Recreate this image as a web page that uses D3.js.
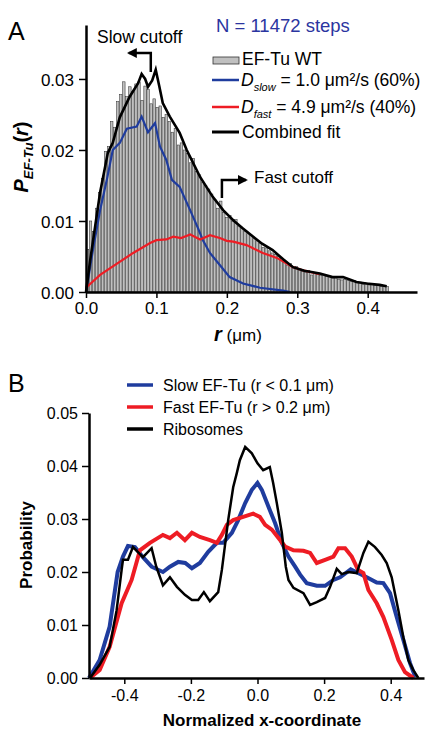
<!DOCTYPE html>
<html>
<head>
<meta charset="utf-8">
<script src="https://cdn.jsdelivr.net/npm/d3@7"></script>
<style>
  body { margin: 0; background: #fff; }
  svg text { font-family: "Liberation Sans", Arial, sans-serif; }
</style>
</head>
<body>
<svg id="chart" width="425" height="730"></svg>
<script>
// ---- panel A data ----
// histogram of step sizes, bins of 0.0043 um starting at r = 0
var histBinWidth = 0.0043;
var histValues = [
  0.0060, 0.0100, 0.0085, 0.0118, 0.0140, 0.0160, 0.0198, 0.0205, 0.0240, 0.0232,
  0.0268, 0.0278, 0.0296, 0.0275, 0.0289, 0.0282, 0.0293, 0.0296, 0.0270, 0.0290,
  0.0285, 0.0265, 0.0272, 0.0260, 0.0262, 0.0246, 0.0250, 0.0240, 0.0225, 0.0230,
  0.0207, 0.0210, 0.0200, 0.0195, 0.0182, 0.0188, 0.0170, 0.0165, 0.0155, 0.0150,
  0.0145, 0.0138, 0.0130, 0.0118, 0.0128, 0.0112, 0.0105, 0.0108, 0.0100, 0.0102,
  0.0093, 0.0090, 0.0085, 0.0082, 0.0080, 0.0075, 0.0072, 0.0068, 0.0063, 0.0062,
  0.0058, 0.0055, 0.0053, 0.0050, 0.0047, 0.0042, 0.0038, 0.0040, 0.0034, 0.0036,
  0.0031, 0.0029, 0.0028, 0.0030, 0.0024, 0.0026, 0.0025, 0.0023, 0.0025, 0.0022,
  0.0022, 0.0020, 0.0021, 0.0018, 0.0017, 0.0018, 0.0016, 0.0015, 0.0016, 0.0013,
  0.0014, 0.0011, 0.0013, 0.0010, 0.0011, 0.0009, 0.0010, 0.0008, 0.0009, 0.0008
];
// fitted curves: [r, P]
var slowFit = [
  [0, 0], [0.01, 0.006], [0.02, 0.0115], [0.03, 0.016], [0.038, 0.020], [0.048, 0.021],
  [0.058, 0.023], [0.072, 0.0233], [0.079, 0.0247], [0.088, 0.0225], [0.098, 0.0238],
  [0.105, 0.0205], [0.114, 0.0186], [0.122, 0.0158], [0.133, 0.0148], [0.148, 0.0115],
  [0.159, 0.009], [0.166, 0.0073], [0.176, 0.0055], [0.19, 0.0038], [0.204, 0.0021],
  [0.223, 0.0012], [0.247, 0.0006], [0.28, 0.0002], [0.29, 0]
];
var fastFit = [
  [0, 0.0006], [0.02, 0.0024], [0.044, 0.004], [0.067, 0.0055], [0.091, 0.0069],
  [0.1, 0.0073], [0.114, 0.0074], [0.124, 0.0078], [0.135, 0.0076], [0.148, 0.0081],
  [0.162, 0.0074], [0.176, 0.008], [0.19, 0.0076], [0.2, 0.0072], [0.209, 0.0071],
  [0.228, 0.0066], [0.251, 0.0055], [0.271, 0.0048], [0.285, 0.0040], [0.294, 0.0035],
  [0.31, 0.0030], [0.332, 0.0025]
];
var combinedFit = [
  [0, 0], [0.006, 0.0045], [0.02, 0.014], [0.031, 0.0196], [0.038, 0.021],
  [0.048, 0.0246], [0.062, 0.0275], [0.074, 0.0294], [0.079, 0.0307], [0.084, 0.0300],
  [0.088, 0.0289], [0.094, 0.0298], [0.099, 0.0313], [0.104, 0.029], [0.109, 0.0266],
  [0.119, 0.0247], [0.133, 0.0224], [0.143, 0.020], [0.148, 0.019], [0.162, 0.0162],
  [0.18, 0.0134], [0.195, 0.0115], [0.209, 0.0101], [0.222, 0.0090], [0.237, 0.0078],
  [0.25, 0.0068], [0.265, 0.0059], [0.28, 0.0046], [0.294, 0.0035], [0.31, 0.0030],
  [0.332, 0.0026], [0.35, 0.0021], [0.365, 0.0021], [0.384, 0.0014], [0.398, 0.0012],
  [0.417, 0.0010], [0.427, 0.0008]
];
var xTicksA = [0, 0.1, 0.2, 0.3, 0.4];
var yTicksA = [0, 0.01, 0.02, 0.03];

// ---- panel B data: [normalized x, probability] ----
var slowProfile = [
  [-0.506, 0], [-0.474, 0.0034], [-0.444, 0.0097], [-0.42, 0.0200], [-0.404, 0.0229],
  [-0.389, 0.0249], [-0.368, 0.0247], [-0.344, 0.0228], [-0.318, 0.021], [-0.284, 0.020],
  [-0.263, 0.021], [-0.238, 0.0219], [-0.217, 0.0217], [-0.197, 0.0207], [-0.173, 0.0217],
  [-0.148, 0.0238], [-0.122, 0.0255], [-0.103, 0.0255], [-0.077, 0.0274], [-0.058, 0.0298],
  [-0.037, 0.033], [-0.017, 0.0355], [0, 0.0368], [0.013, 0.0355], [0.033, 0.0323],
  [0.053, 0.0292], [0.073, 0.0255], [0.093, 0.0229], [0.113, 0.021], [0.128, 0.0195],
  [0.148, 0.0179], [0.178, 0.0174], [0.203, 0.0174], [0.228, 0.0185], [0.248, 0.019],
  [0.28, 0.0205], [0.302, 0.0198], [0.328, 0.019], [0.358, 0.018], [0.378, 0.0179],
  [0.398, 0.016], [0.418, 0.0115], [0.438, 0.0072], [0.458, 0.0028], [0.474, 0.0002]
];
var fastProfile = [
  [-0.503, 0], [-0.474, 0.0015], [-0.444, 0.0059], [-0.408, 0.0141], [-0.378, 0.0185],
  [-0.353, 0.0241], [-0.323, 0.0255], [-0.284, 0.027], [-0.263, 0.0264], [-0.242, 0.0274],
  [-0.218, 0.026], [-0.197, 0.0274], [-0.173, 0.0266], [-0.143, 0.026], [-0.122, 0.0255],
  [-0.107, 0.027], [-0.092, 0.0289], [-0.073, 0.0298], [-0.043, 0.0304], [-0.013, 0.031],
  [0.007, 0.0304], [0.023, 0.0289], [0.043, 0.028], [0.063, 0.0264], [0.083, 0.0248],
  [0.108, 0.0241], [0.138, 0.024], [0.158, 0.0236], [0.178, 0.0217], [0.203, 0.0223],
  [0.228, 0.0229], [0.243, 0.0245], [0.263, 0.0245], [0.283, 0.0229], [0.302, 0.0204],
  [0.318, 0.0198], [0.333, 0.0166], [0.358, 0.0141], [0.378, 0.0115], [0.403, 0.0072],
  [0.423, 0.0034], [0.443, 0.0011], [0.468, 0]
];
var riboProfile = [
  [-0.503, 0], [-0.474, 0.0025], [-0.444, 0.0059], [-0.423, 0.0128], [-0.408, 0.0204],
  [-0.404, 0.0223], [-0.389, 0.0223], [-0.374, 0.0247], [-0.344, 0.0228], [-0.318, 0.0245],
  [-0.304, 0.021], [-0.284, 0.0175], [-0.263, 0.019], [-0.242, 0.0172], [-0.218, 0.0157],
  [-0.197, 0.0147], [-0.178, 0.0147], [-0.161, 0.0162], [-0.143, 0.0145], [-0.118, 0.0162],
  [-0.107, 0.0204], [-0.088, 0.0298], [-0.073, 0.036], [-0.062, 0.0387], [-0.053, 0.0411],
  [-0.037, 0.0436], [-0.017, 0.0424], [0, 0.0405], [0.017, 0.0392], [0.037, 0.0398],
  [0.047, 0.0368], [0.058, 0.033], [0.073, 0.0274], [0.085, 0.021], [0.093, 0.0185],
  [0.108, 0.017], [0.138, 0.016], [0.158, 0.0138], [0.178, 0.0143], [0.203, 0.0151],
  [0.218, 0.0172], [0.238, 0.0206], [0.253, 0.0196], [0.272, 0.020], [0.298, 0.0198],
  [0.318, 0.0236], [0.333, 0.0257], [0.353, 0.0247], [0.373, 0.0232], [0.388, 0.0217],
  [0.403, 0.019], [0.423, 0.0128], [0.438, 0.0077], [0.453, 0.0034], [0.468, 0.0015],
  [0.483, 0]
];
var xTicksB = [-0.4, -0.2, 0, 0.2, 0.4];
var yTicksB = [0, 0.01, 0.02, 0.03, 0.04, 0.05];

var blue = '#1f3c9e', red = '#ee1c24';

var svg = d3.select('#chart');
svg.append('defs').append('marker')
   .attr('id', 'arrow').attr('viewBox', '0 0 10 10')
   .attr('refX', 8).attr('refY', 5)
   .attr('markerWidth', 4).attr('markerHeight', 4)
   .attr('orient', 'auto')
   .append('path').attr('d', 'M0,0L10,5L0,10Z').attr('fill', '#000');

function styleAxis(g, fontSize) {
    g.select('.domain').attr('stroke', '#000').attr('stroke-width', 2.5);
    g.selectAll('.tick line').attr('stroke', '#000').attr('stroke-width', 1.5);
    g.selectAll('.tick text').attr('fill', '#000')
     .style('font-size', fontSize + 'px')
     .style('font-family', '"Liberation Sans", Arial, sans-serif');
}

// ================= panel A =================
var xA = d3.scaleLinear().domain([0, 0.47]).range([86, 417]);
var yA = d3.scaleLinear().domain([0, 0.0376]).range([292, 25]);

var gA = svg.append('g');
gA.selectAll('rect.bar')
  .data(histValues)
  .enter().append('rect')
  .attr('class', 'bar')
  .attr('x', function (d, i) { return xA(i * histBinWidth) + 0.3; })
  .attr('width', function (d, i) { return xA((i + 1) * histBinWidth) - xA(i * histBinWidth) - 0.6; })
  .attr('y', function (d) { return yA(d); })
  .attr('height', function (d) { return yA(0) - yA(d); })
  .attr('fill', '#c0c0c0')
  .attr('stroke', '#333')
  .attr('stroke-width', 0.55);

var lineA = d3.line().x(function (d) { return xA(d[0]); }).y(function (d) { return yA(d[1]); });
gA.append('path').datum(slowFit).attr('d', lineA)
  .attr('fill', 'none').attr('stroke', blue).attr('stroke-width', 2.2);
gA.append('path').datum(fastFit).attr('d', lineA)
  .attr('fill', 'none').attr('stroke', red).attr('stroke-width', 2.2);
gA.append('path').datum(combinedFit).attr('d', lineA)
  .attr('fill', 'none').attr('stroke', '#000').attr('stroke-width', 2.6)
  .attr('stroke-linejoin', 'miter');

var axA_x = gA.append('g').attr('transform', 'translate(0,' + yA(0) + ')')
  .call(d3.axisBottom(xA).tickValues(xTicksA).tickFormat(d3.format('.1f'))
          .tickSize(6).tickSizeOuter(0).tickPadding(4));
styleAxis(axA_x, 17);
var axA_y = gA.append('g').attr('transform', 'translate(' + xA(0) + ',0)')
  .call(d3.axisLeft(yA).tickValues(yTicksA).tickFormat(d3.format('.2f'))
          .tickSize(7).tickSizeOuter(0).tickPadding(5));
styleAxis(axA_y, 17);
axA_y.selectAll('.tick text').attr('dy', '0.36em');

// cutoff annotations
gA.append('path')
  .attr('d', 'M' + xA(0.092) + ',' + 72 + 'V53H' + (xA(0.092) - 22))
  .attr('fill', 'none').attr('stroke', '#000').attr('stroke-width', 2.5)
  .attr('marker-end', 'url(#arrow)');
gA.append('text').attr('x', 97).attr('y', 43).style('font-size', '17.5px').text('Slow cutoff');
gA.append('path')
  .attr('d', 'M' + xA(0.193) + ',' + 198 + 'V180H' + (xA(0.193) + 24))
  .attr('fill', 'none').attr('stroke', '#000').attr('stroke-width', 2.5)
  .attr('marker-end', 'url(#arrow)');
gA.append('text').attr('x', 254).attr('y', 183).style('font-size', '17px').text('Fast cutoff');

// axis titles
var yLabA = gA.append('text').attr('transform', 'translate(28,157) rotate(-90)')
  .attr('text-anchor', 'middle').style('font-size', '20px');
yLabA.append('tspan').attr('font-weight', 'bold').attr('font-style', 'italic').text('P');
yLabA.append('tspan').attr('font-weight', 'bold').attr('font-style', 'italic')
  .attr('dy', 5).style('font-size', '13px').text('EF-Tu');
yLabA.append('tspan').attr('dy', -5).attr('font-weight', 'bold').text('(');
yLabA.append('tspan').attr('font-weight', 'bold').attr('font-style', 'italic').text('r');
yLabA.append('tspan').attr('font-weight', 'bold').text(')');

var xLabA = gA.append('text').attr('x', 238).attr('y', 341).attr('text-anchor', 'middle');
xLabA.append('tspan').attr('font-weight', 'bold').attr('font-style', 'italic')
  .style('font-size', '20px').text('r');
xLabA.append('tspan').style('font-size', '17px').text(' (\u03bcm)');

svg.append('text').attr('x', 8).attr('y', 40).style('font-size', '25px').text('A');

// legend A
gA.append('text').attr('x', 216).attr('y', 32).attr('fill', '#2b35a0')
  .style('font-size', '18.5px').text('N = 11472 steps');
gA.append('rect').attr('x', 213).attr('y', 57).attr('width', 26).attr('height', 7)
  .attr('fill', '#c0c0c0').attr('stroke', '#333').attr('stroke-width', 0.8);
gA.append('text').attr('x', 242).attr('y', 65).style('font-size', '17.5px').text('EF-Tu WT');
var legA = [
  {c: blue, y: 80, sub: 'slow', rest: ' = 1.0 \u03bcm\u00b2/s (60%)'},
  {c: red, y: 107, sub: 'fast', rest: ' = 4.9 \u03bcm\u00b2/s (40%)'}
];
legA.forEach(function (e) {
    gA.append('line').attr('x1', 212).attr('x2', 239).attr('y1', e.y).attr('y2', e.y)
      .attr('stroke', e.c).attr('stroke-width', 2.5);
    var t = gA.append('text').attr('x', 241).attr('y', e.y + 6).style('font-size', '17.5px');
    t.append('tspan').attr('font-style', 'italic').text('D');
    t.append('tspan').attr('font-style', 'italic').attr('dy', 5).style('font-size', '11px').text(e.sub);
    t.append('tspan').attr('dy', -5).text(e.rest);
});
gA.append('line').attr('x1', 212).attr('x2', 239).attr('y1', 132).attr('y2', 132)
  .attr('stroke', '#000').attr('stroke-width', 3);
gA.append('text').attr('x', 242).attr('y', 138).style('font-size', '17.5px').text('Combined fit');

// ================= panel B =================
var xB = d3.scaleLinear().domain([-0.506, 0.5]).range([89, 424]);
var yB = d3.scaleLinear().domain([0, 0.05]).range([678, 413]);
var gB = svg.append('g');
var lineB = d3.line().x(function (d) { return xB(d[0]); }).y(function (d) { return yB(d[1]); });

gB.append('path').datum(slowProfile).attr('d', lineB)
  .attr('fill', 'none').attr('stroke', blue).attr('stroke-width', 4);
gB.append('path').datum(fastProfile).attr('d', lineB)
  .attr('fill', 'none').attr('stroke', red).attr('stroke-width', 4);
gB.append('path').datum(riboProfile).attr('d', lineB)
  .attr('fill', 'none').attr('stroke', '#000').attr('stroke-width', 2.5);

var axB_x = gB.append('g').attr('transform', 'translate(0,' + yB(0) + ')')
  .call(d3.axisBottom(xB).tickValues(xTicksB).tickFormat(d3.format('.1f'))
          .tickSize(6).tickSizeOuter(0).tickPadding(6));
styleAxis(axB_x, 16);
axB_x.selectAll('.tick text').text(function (d) { return d3.format('.1f')(d).replace('\u2212', '-'); });
var axB_y = gB.append('g').attr('transform', 'translate(' + xB(-0.506) + ',0)')
  .call(d3.axisLeft(yB).tickValues(yTicksB).tickFormat(d3.format('.2f'))
          .tickSize(7).tickSizeOuter(0).tickPadding(4));
styleAxis(axB_y, 16);

gB.append('text').attr('x', 262).attr('y', 726).attr('text-anchor', 'middle')
  .attr('font-weight', 'bold').style('font-size', '17px').text('Normalized x-coordinate');
gB.append('text').attr('transform', 'translate(32,545) rotate(-90)').attr('text-anchor', 'middle')
  .attr('font-weight', 'bold').style('font-size', '17px').text('Probability');

svg.append('text').attr('x', 8).attr('y', 392).style('font-size', '25px').text('B');

var legB = [
  {c: blue, y: 385, label: 'Slow EF-Tu (r < 0.1 \u03bcm)'},
  {c: red, y: 407, label: 'Fast EF-Tu (r > 0.2 \u03bcm)'},
  {c: '#000', y: 429, label: 'Ribosomes'}
];
legB.forEach(function (e) {
    gB.append('line').attr('x1', 127).attr('x2', 153).attr('y1', e.y).attr('y2', e.y)
      .attr('stroke', e.c).attr('stroke-width', 3.5);
    gB.append('text').attr('x', 163).attr('y', e.y + 6).style('font-size', '16px').text(e.label);
});
</script>
</body>
</html>
